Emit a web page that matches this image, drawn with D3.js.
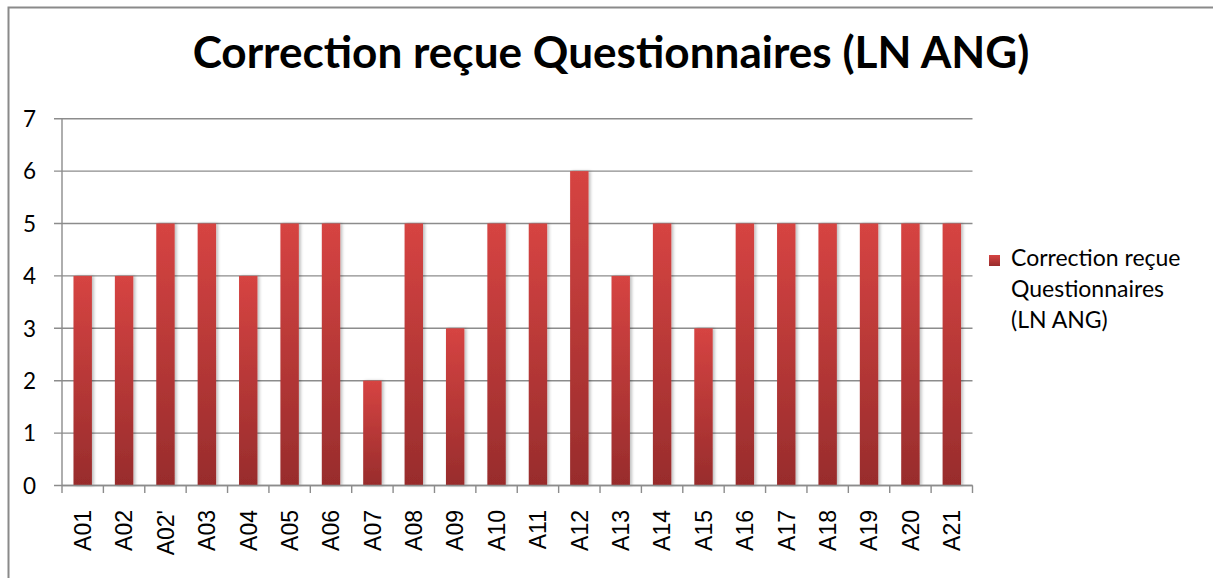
<!DOCTYPE html>
<html>
<head>
<meta charset="utf-8">
<script src="https://cdn.jsdelivr.net/npm/d3@7"></script>
<style>
  body { margin: 0; background: #fff; }
  svg { display: block; }
</style>
</head>
<body>
<svg width="1213" height="578"></svg>
<script>
// données
const categories = ["A01", "A02", "A02'", "A03", "A04", "A05", "A06", "A07", "A08", "A09", "A10",
  "A11", "A12", "A13", "A14", "A15", "A16", "A17", "A18", "A19", "A20", "A21"];
const values = [4, 4, 5, 5, 4, 5, 5, 2, 5, 3, 5, 5, 6, 4, 5, 3, 5, 5, 5, 5, 5, 5];
const yTicks = [0, 1, 2, 3, 4, 5, 6, 7];
const seriesName = ["Correction reçue", "Questionnaires", "(LN ANG)"];
const titleText = "Correction reçue Questionnaires (LN ANG)";

const svg = d3.select("svg");
const W = 1213, H = 578;
const plot = { left: 62, right: 972.5, top: 118.7, bottom: 485.5 };

const x = d3.scaleBand().domain(categories).range([plot.left, plot.right]).paddingInner(0.555).paddingOuter(0.2775);
const xTick = d3.scaleBand().domain(categories).range([plot.left, plot.right]);
const y = d3.scaleLinear().domain([0, 7]).range([plot.bottom, plot.top]);

const defs = svg.append("defs");
const grad = defs.append("linearGradient")
  .attr("id", "barGrad")
  .attr("x1", 0).attr("y1", 0).attr("x2", 0).attr("y2", 1);
grad.append("stop").attr("offset", "0%").attr("stop-color", "#d64442");
grad.append("stop").attr("offset", "100%").attr("stop-color", "#982c2c");

const shadow = defs.append("filter").attr("id", "shadow")
  .attr("x", "-20%").attr("y", "-5%").attr("width", "150%").attr("height", "110%");
shadow.append("feDropShadow")
  .attr("dx", 2).attr("dy", 0).attr("stdDeviation", 1.5)
  .attr("flood-color", "#000").attr("flood-opacity", 0.25);

// cadre
svg.append("path")
  .attr("d", `M8.5,${H} L8.5,7.5 L${W},7.5`)
  .attr("fill", "none")
  .attr("stroke", "#8a8a8a")
  .attr("stroke-width", 2);

// titre : taille ajustée à la largeur du modèle
const title = svg.append("text")
  .attr("x", 611)
  .attr("y", 68)
  .attr("text-anchor", "middle")
  .style("font-family", "Lato, 'Open Sans', sans-serif")
  .style("font-weight", "bold")
  .style("font-size", "34px")
  .text(titleText);
const tw = title.node().getComputedTextLength();
title.style("font-size", (34 * 837 / tw) + "px");

// lignes de la grille + graduations gauches
svg.selectAll(".grid")
  .data(yTicks)
  .enter()
  .append("line")
  .attr("x1", plot.left - 8)
  .attr("x2", plot.right)
  .attr("y1", d => y(d))
  .attr("y2", d => y(d))
  .attr("stroke", "#8c8c8c")
  .attr("stroke-width", 1.4);

svg.append("line")
  .attr("x1", plot.left).attr("x2", plot.left)
  .attr("y1", plot.top).attr("y2", plot.bottom)
  .attr("stroke", "#8c8c8c")
  .attr("stroke-width", 1.4);

svg.selectAll(".ylabel")
  .data(yTicks)
  .enter()
  .append("text")
  .attr("x", 36)
  .attr("y", d => y(d))
  .attr("dy", "0.37em")
  .attr("text-anchor", "end")
  .style("font-family", "Lato, 'Open Sans', sans-serif")
  .style("font-size", "22.5px")
  .text(d => d);

// barres
svg.selectAll(".bar")
  .data(values)
  .enter()
  .append("rect")
  .attr("x", (d, i) => x(categories[i]))
  .attr("width", x.bandwidth())
  .attr("y", d => y(d))
  .attr("height", d => y(0) - y(d))
  .attr("fill", "url(#barGrad)")
  .attr("filter", "url(#shadow)");

// axe des x
svg.append("line")
  .attr("x1", plot.left).attr("x2", plot.right)
  .attr("y1", plot.bottom).attr("y2", plot.bottom)
  .attr("stroke", "#8c8c8c")
  .attr("stroke-width", 1.4);

const tickXs = categories.map(c => xTick(c)).concat([plot.right]);
svg.selectAll(".xtick")
  .data(tickXs)
  .enter()
  .append("line")
  .attr("x1", d => d).attr("x2", d => d)
  .attr("y1", plot.bottom).attr("y2", plot.bottom + 7.5)
  .attr("stroke", "#8c8c8c")
  .attr("stroke-width", 1.4);

svg.selectAll(".xlabel")
  .data(categories)
  .enter()
  .append("text")
  .attr("transform", d => `translate(${xTick(d) + xTick.bandwidth() / 2},510) rotate(-90)`)
  .attr("dy", "0.36em")
  .attr("text-anchor", "end")
  .style("font-family", "'Liberation Sans', Arial, sans-serif")
  .style("font-size", "23px")
  .text(d => d);

// légende
svg.append("rect")
  .attr("x", 989).attr("y", 255)
  .attr("width", 11).attr("height", 11)
  .attr("fill", "url(#barGrad)");

svg.append("text")
  .attr("x", 1011)
  .attr("y", 266)
  .style("font-family", "Lato, 'Open Sans', sans-serif")
  .style("font-size", "23px")
  .selectAll("tspan")
  .data(seriesName)
  .enter()
  .append("tspan")
  .attr("x", 1011)
  .attr("dy", (d, i) => i === 0 ? 0 : 31)
  .text(d => d);
</script>
</body>
</html>
